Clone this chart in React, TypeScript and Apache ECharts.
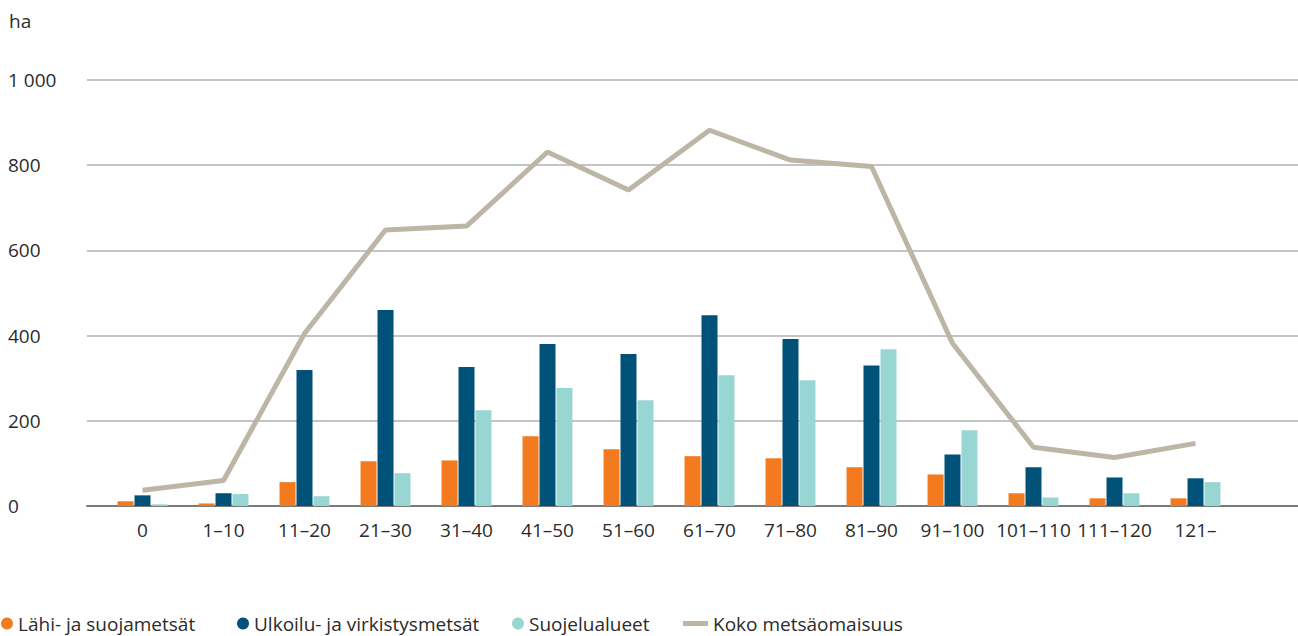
import React, { useEffect, useRef } from "react";
import * as echarts from "echarts";

const categories = ["0", "1–10", "11–20", "21–30", "31–40", "41–50", "51–60", "61–70", "71–80", "81–90", "91–100", "101–110", "111–120", "121–"];
const lahiSuoja = [11, 6, 56, 105, 107, 164, 133, 117, 112, 91, 74, 30, 18, 18];
const ulkoilu = [25, 30, 319, 460, 326, 380, 357, 448, 392, 330, 121, 91, 67, 65];
const suojelu = [4, 28, 23, 77, 225, 277, 248, 307, 295, 368, 178, 20, 30, 56];
const koko = [37, 60, 405, 648, 657, 831, 742, 882, 812, 797, 382, 138, 114, 147];
const yTicks = [0, 200, 400, 600, 800, 1000];

const FONT = "'Open Sans', sans-serif";
const TXT = "#2b2b2b";
const FS = 19;

function fmt(v: number): string {
  if (v >= 1000) {
    return `${Math.floor(v / 1000)} ${String(v % 1000).padStart(3, "0")}`;
  }
  return String(v);
}

export default function App() {
  const ref = useRef<HTMLDivElement>(null);
  useEffect(() => {
    if (!ref.current) return;
    const chart = echarts.init(ref.current, undefined, { renderer: "svg" });
    const yMin = yTicks[0];
    const yMax = yTicks[yTicks.length - 1];
    const legendText = { fontFamily: FONT, fontSize: FS, color: TXT };
    const legendBase = { top: 614, padding: 0, textStyle: legendText };
    chart.setOption({
      animation: false,
      textStyle: { fontFamily: FONT },
      title: {
        text: "ha",
        left: 9,
        top: 11,
        padding: 0,
        textStyle: { fontFamily: FONT, fontSize: FS, fontWeight: "normal", color: TXT },
      },
      legend: [
        { ...legendBase, data: ["Lähi- ja suojametsät"], left: 1, icon: "circle", itemWidth: 12, itemHeight: 12 },
        { ...legendBase, data: ["Ulkoilu- ja virkistysmetsät"], left: 237, icon: "circle", itemWidth: 12, itemHeight: 12 },
        { ...legendBase, data: ["Suojelualueet"], left: 512, icon: "circle", itemWidth: 12, itemHeight: 12 },
        { ...legendBase, data: ["Koko metsäomaisuus"], left: 683, icon: "rect", itemWidth: 25, itemHeight: 5 },
      ],
      grid: [
        { left: 87, right: 0, top: 80, bottom: 130 },
        { left: 102, width: 1134, top: 80, bottom: 130 },
      ],
      xAxis: [
        {
          gridIndex: 0,
          type: "value",
          min: 0,
          max: 1,
          axisLine: { show: true, lineStyle: { color: "#7a7a7a", width: 2 } },
          axisTick: { show: false },
          axisLabel: { show: false },
          splitLine: { show: false },
        },
        {
          gridIndex: 1,
          type: "category",
          data: categories,
          axisLine: { show: false },
          axisTick: { show: false },
          axisLabel: { interval: 0, fontFamily: FONT, fontSize: FS, color: TXT, margin: 14 },
        },
      ],
      yAxis: [
        {
          gridIndex: 0,
          type: "value",
          min: yMin,
          max: yMax,
          interval: 200,
          axisLine: { show: false },
          axisTick: { show: false },
          axisLabel: {
            align: "left",
            margin: 79,
            fontFamily: FONT,
            fontSize: FS,
            color: TXT,
            formatter: (v: number) => fmt(v),
          },
          splitLine: { lineStyle: { color: "#b0b0b0", width: 1.5 } },
        },
        {
          gridIndex: 1,
          type: "value",
          min: yMin,
          max: yMax,
          interval: 200,
          show: false,
          splitLine: { show: false },
        },
      ],
      series: [
        {
          name: "Lähi- ja suojametsät",
          type: "bar",
          xAxisIndex: 1,
          yAxisIndex: 1,
          data: lahiSuoja,
          barWidth: 16,
          barGap: "6%",
          itemStyle: { color: "#f47a20" },
        },
        {
          name: "Ulkoilu- ja virkistysmetsät",
          type: "bar",
          xAxisIndex: 1,
          yAxisIndex: 1,
          data: ulkoilu,
          barWidth: 16,
          barGap: "6%",
          itemStyle: { color: "#005279" },
        },
        {
          name: "Suojelualueet",
          type: "bar",
          xAxisIndex: 1,
          yAxisIndex: 1,
          data: suojelu,
          barWidth: 16,
          barGap: "6%",
          itemStyle: { color: "#98d6d3" },
        },
        {
          name: "Koko metsäomaisuus",
          type: "line",
          xAxisIndex: 1,
          yAxisIndex: 1,
          data: koko,
          showSymbol: false,
          symbol: "none",
          z: 5,
          lineStyle: { color: "#bdb6a6", width: 5 },
          itemStyle: { color: "#bdb6a6" },
        },
      ],
    });
    return () => chart.dispose();
  }, []);
  return (
    <div
      ref={ref}
      style={{ position: "fixed", left: 0, top: 0, width: 1298, height: 636, background: "#fff" }}
    />
  );
}
